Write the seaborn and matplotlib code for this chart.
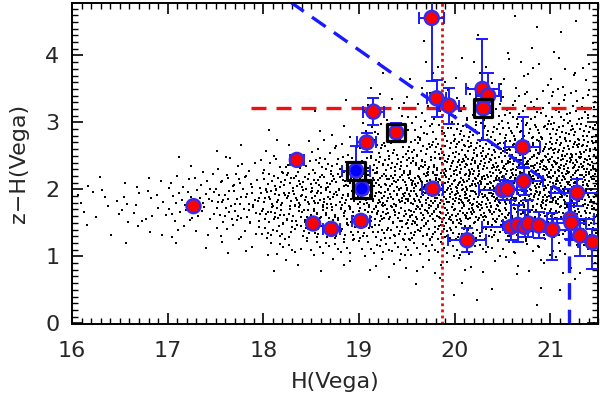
import numpy as np
import pandas as pd
import matplotlib
matplotlib.use("Agg")
import matplotlib.pyplot as plt
import seaborn as sns

# ---------------- data ----------------
# background cloud: number of dots per cell (x bins of 0.5 from 16, y bins of 0.25 from 0)
bg_x_edges = [16.0, 16.5, 17.0, 17.5, 18.0, 18.5, 19.0, 19.5, 20.0, 20.5, 21.0]
bg_counts = [
    [0, 0, 0, 0, 0, 2, 5, 6, 2, 0, 0, 0, 0, 0, 0, 0, 0, 0, 0],
    [0, 0, 0, 0, 1, 3, 8, 8, 4, 0, 0, 0, 0, 0, 0, 0, 0, 0, 0],
    [0, 0, 0, 0, 2, 5, 12, 14, 10, 3, 0, 0, 0, 0, 0, 0, 0, 0, 0],
    [0, 0, 0, 0, 4, 11, 20, 23, 17, 8, 2, 0, 0, 0, 0, 0, 0, 0, 0],
    [0, 0, 0, 3, 10, 22, 34, 38, 31, 14, 5, 1, 0, 0, 0, 0, 0, 0, 0],
    [0, 0, 0, 4, 14, 26, 38, 42, 35, 21, 9, 4, 1, 1, 0, 0, 0, 0, 0],
    [0, 0, 1, 6, 18, 32, 47, 52, 48, 36, 22, 13, 6, 4, 2, 1, 0, 0, 0],
    [0, 1, 2, 6, 19, 38, 52, 58, 56, 45, 30, 19, 11, 6, 4, 2, 1, 0, 0],
    [0, 1, 2, 5, 14, 34, 55, 65, 65, 55, 40, 26, 14, 8, 5, 3, 1, 1, 0],
    [0, 1, 2, 5, 10, 25, 49, 65, 70, 61, 47, 32, 19, 10, 5, 4, 2, 1, 1],
    [1, 1, 2, 4, 10, 22, 45, 65, 70, 65, 49, 35, 21, 13, 6, 4, 2, 1, 1],
]

# selected objects
src_x = [17.27, 18.35, 18.52, 18.71, 19.02, 18.97, 19.03, 19.08, 19.15, 19.39, 19.77,
         19.76, 19.81, 19.94, 20.29, 20.35, 20.30, 20.71, 20.72, 20.50, 20.55, 21.28,
         20.13, 20.59, 20.66, 20.73, 20.77, 20.88, 21.02, 21.21, 21.22, 21.31, 21.44]
src_y = [1.75, 2.44, 1.49, 1.41, 1.53, 2.28, 2.01, 2.70, 3.16, 2.85, 2.01,
         4.56, 3.36, 3.25, 3.50, 3.40, 3.21, 2.63, 2.12, 1.99, 2.00, 1.95,
         1.24, 1.44, 1.47, 1.44, 1.49, 1.46, 1.40, 1.56, 1.50, 1.31, 1.21]
src_xerr = [0.0, 0.07, 0.05, 0.09, 0.09, 0.15, 0.05, 0.10, 0.11, 0.04, 0.11,
            0.13, 0.10, 0.10, 0.17, 0.13, 0.10, 0.18, 0.20, 0.25, 0.10, 0.27,
            0.20, 0.30, 0.15, 0.20, 0.12, 0.15, 0.20, 0.25, 0.15, 0.12, 0.15]
src_yerr_lo = [0.0, 0.05, 0.05, 0.06, 0.07, 0.10, 0.05, 0.14, 0.20, 0.14, 0.07,
               0.94, 0.28, 0.27, 0.30, 0.25, 0.48, 0.30, 0.20, 0.15, 0.10, 0.20,
               0.18, 0.20, 0.25, 0.15, 0.20, 0.18, 0.45, 0.30, 0.25, 0.30, 0.40]
src_yerr_hi = [0.0, 0.05, 0.05, 0.06, 0.07, 0.37, 0.05, 0.14, 0.20, 0.14, 0.07,
               0.30, 0.28, 0.27, 0.75, 0.33, 0.10, 0.45, 0.20, 0.15, 0.10, 0.20,
               0.18, 0.40, 0.30, 0.25, 0.35, 0.20, 0.25, 0.45, 0.30, 0.25, 0.20]
src_kind = ["red"] * 33
src_kind[5] = "blue"
src_kind[6] = "blue"
boxed = [5, 6, 9, 16]

# selection boundaries
cut_line_x = [18.28, 21.2, 21.2]
cut_line_y = [4.8, 1.88, -0.1]
zh_cut = 3.21
zh_cut_xmin = 17.87
h_cut = 19.87

x_ticks = [16, 17, 18, 19, 20, 21]
y_ticks = [0, 1, 2, 3, 4]


# ---------------- background dot placement inside each cell ----------------
def halton(idx, base):
    f, r = 1.0, 0.0
    while idx > 0:
        f /= base
        r += f * (idx % base)
        idx //= base
    return r


bgx, bgy = [], []
cell = 0
for j, col in enumerate(bg_counts):
    x0 = bg_x_edges[j]
    for i, n in enumerate(col):
        y0 = 0.25 * i
        start = 1 + cell * 53
        for k in range(n):
            bgx.append(x0 + 0.5 * halton(start + k, 2))
            bgy.append(y0 + 0.25 * halton(start + k, 3))
        cell += 1
bg = pd.DataFrame({"H": bgx, "zH": bgy})

src = pd.DataFrame({"H": src_x, "zH": src_y, "kind": src_kind})

# ---------------- plotting ----------------
sns.set_style("ticks")
plt.rcParams["font.family"] = ["DejaVu Sans"]

fig = plt.figure(figsize=(6.0, 4.04), dpi=100)
ax = fig.add_axes([0.12, 0.198, 0.877, 0.795])

sns.scatterplot(data=bg, x="H", y="zH", ax=ax, color="black", marker="s",
                s=3.0, linewidth=0, zorder=1, legend=False)

ax.plot(cut_line_x, cut_line_y, color="#1a1aff", lw=2.4, ls=(0, (5, 3)), zorder=2)
ax.plot([zh_cut_xmin, 21.5], [zh_cut, zh_cut], color="#ee1111", lw=2.4,
        ls=(0, (4.5, 3)), zorder=2)
ax.axvline(h_cut, color="#dd1111", lw=2.0, ls=(0, (1, 1.2)), zorder=2)

ax.errorbar(src_x, src_y, xerr=src_xerr, yerr=[src_yerr_lo, src_yerr_hi],
            fmt="none", ecolor="#1a1aff", elinewidth=1.4, capsize=4, capthick=1.4,
            zorder=3)

sns.scatterplot(data=src, x="H", y="zH", hue="kind",
                palette={"red": "#ff0000", "blue": "#0000ff"},
                ax=ax, s=100, edgecolor="#3a2aee", linewidth=1.8, zorder=4,
                legend=False)

bx = [src_x[i] for i in boxed]
by = [src_y[i] for i in boxed]
ax.scatter(bx, by, marker="s", s=165, facecolors="none", edgecolors="black",
           linewidths=2.3, zorder=5)

ax.set_xlim(16, 21.5)
ax.set_ylim(-0.01, 4.785)
ax.set_xticks(x_ticks)
ax.set_yticks(y_ticks)
ax.set_xticks(np.arange(16, 21.51, 0.1), minor=True)
ax.set_yticks(np.arange(0, 4.79, 0.1), minor=True)
ax.tick_params(which="both", direction="in", top=True, right=True, color="black")
ax.tick_params(which="major", length=8, width=1.2, labelsize=16, pad=12)
ax.tick_params(which="minor", length=4, width=1.0)
ax.tick_params(axis="y", which="major", pad=9)
for sp in ax.spines.values():
    sp.set_linewidth(1.4)
    sp.set_color("black")

ax.set_xlabel("H(Vega)", fontsize=16, labelpad=8)
ax.set_ylabel("z\u2212H(Vega)", fontsize=16, labelpad=12)

fig.savefig("out.png", dpi=100)
